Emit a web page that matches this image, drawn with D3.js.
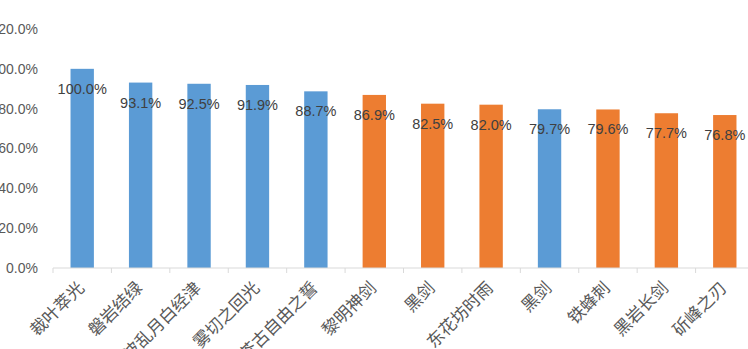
<!DOCTYPE html>
<html>
<head>
<meta charset="utf-8">
<script src="https://cdn.jsdelivr.net/npm/d3@7"></script>
<style>
  body { margin: 0; background: #fff; overflow: hidden; }
  text { font-family: "Liberation Sans", "Noto Sans CJK SC", sans-serif; }
</style>
</head>
<body>
<div id="chart"></div>
<script>
var categories = ["裁叶萃光", "磐岩结绿", "波乱月白经津", "雾切之回光", "苍古自由之誓", "黎明神剑",
    "黑剑", "东花坊时雨", "黑剑", "铁蜂刺", "黑岩长剑", "斫峰之刃"]
var values = [1.000, 0.931, 0.925, 0.919, 0.887, 0.869, 0.825, 0.820, 0.797, 0.796, 0.777, 0.768]
var groups = ["a", "a", "a", "a", "a", "b", "b", "b", "a", "b", "b", "b"]
var yTicks = [0, 0.2, 0.4, 0.6, 0.8, 1.0, 1.2]

var fullWidth = 748
var fullHeight = 349
var margin = { top: 29, left: 53, bottom: 81 }
var plotRight = 754

var svg = d3.select("#chart").append("svg")
    .attr("width", fullWidth)
    .attr("height", fullHeight)

var xScale = d3.scaleBand().domain(d3.range(categories.length))
    .range([margin.left, plotRight]).paddingInner(0.6).paddingOuter(0.3)
var yScale = d3.scaleLinear().domain([0, 1.2]).range([fullHeight - margin.bottom, margin.top])

var color = d3.scaleOrdinal().domain(["a", "b"]).range(["#5b9bd5", "#ed7d31"])
var fmt = d3.format(".1%")

// y axis labels, no line
var yAxis = svg.append("g")
    .attr("transform", "translate(" + margin.left + ",0)")
    .call(d3.axisLeft(yScale).tickValues(yTicks).tickFormat(fmt).tickSize(0).tickPadding(15))
yAxis.select(".domain").remove()
yAxis.selectAll("text")
    .attr("fill", "#595959")
    .style("font-size", "14px")

// bars
svg.selectAll("rect.bar")
    .data(values)
    .enter()
    .append("rect")
    .attr("class", "bar")
    .attr("x", function (d, i) { return xScale(i) })
    .attr("width", xScale.bandwidth())
    .attr("y", function (d) { return yScale(d) })
    .attr("height", function (d) { return yScale(0) - yScale(d) })
    .attr("fill", function (d, i) { return color(groups[i]) })

// x axis baseline + ticks at category edges
var step = xScale.step()
var edges = d3.range(categories.length + 1).map(function (i) { return margin.left + i * step })
svg.append("line")
    .attr("x1", margin.left).attr("x2", fullWidth)
    .attr("y1", yScale(0)).attr("y2", yScale(0))
    .attr("stroke", "#d9d9d9")
svg.selectAll("line.tick")
    .data(edges)
    .enter()
    .append("line")
    .attr("class", "tick")
    .attr("x1", function (d) { return d }).attr("x2", function (d) { return d })
    .attr("y1", yScale(0)).attr("y2", yScale(0) + 5)
    .attr("stroke", "#d9d9d9")

// category labels, rotated
svg.selectAll("text.cat")
    .data(categories)
    .enter()
    .append("text")
    .attr("class", "cat")
    .attr("transform", function (d, i) {
        var cx = xScale(i) + xScale.bandwidth() / 2 + 3
        return "translate(" + cx + "," + (yScale(0) + 21) + ") rotate(-45)"
    })
    .attr("text-anchor", "end")
    .attr("fill", "#595959")
    .style("font-size", "17px")
    .text(function (d) { return d })

// data labels
svg.selectAll("text.val")
    .data(values)
    .enter()
    .append("text")
    .attr("class", "val")
    .attr("x", function (d, i) { return xScale(i) + xScale.bandwidth() / 2 })
    .attr("y", function (d) { return yScale(d) + 25 })
    .attr("text-anchor", "middle")
    .attr("fill", "#404040")
    .style("font-size", "14.5px")
    .text(function (d) { return fmt(d) })
</script>
</body>
</html>
